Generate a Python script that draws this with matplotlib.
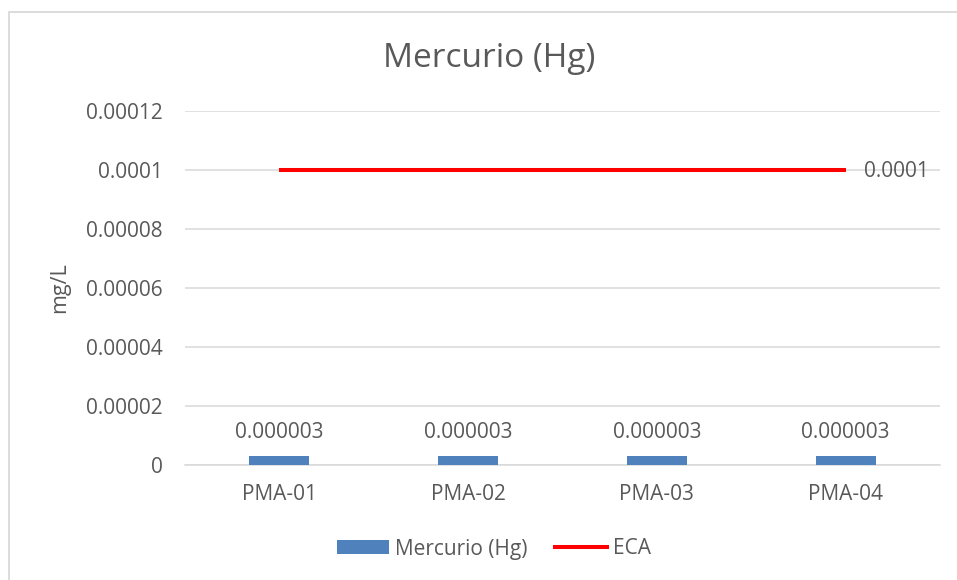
import matplotlib
matplotlib.use("Agg")
import matplotlib.pyplot as plt
from matplotlib.patches import Rectangle, Patch
from matplotlib.lines import Line2D

# Data
categories = ["PMA-01", "PMA-02", "PMA-03", "PMA-04"]
mercurio = [0.000003, 0.000003, 0.000003, 0.000003]
eca = [0.0001, 0.0001, 0.0001, 0.0001]
bar_labels = ["0.000003", "0.000003", "0.000003", "0.000003"]
eca_label = "0.0001"
yticks = [0, 0.00002, 0.00004, 0.00006, 0.00008, 0.0001, 0.00012]
ytick_labels = ["0", "0.00002", "0.00004", "0.00006", "0.00008", "0.0001", "0.00012"]

TEXT = "#595959"
GRID = "#d9d9d9"
BAR = "#4f81bd"
RED = "#ff0000"
FONT = "Open Sans"
FS = 15

plt.rcParams["font.family"] = [FONT, "DejaVu Sans"]

W, H = 957, 580
fig = plt.figure(figsize=(W / 100, H / 100), dpi=100)

# chart frame
fig.patches.append(Rectangle((9 / W, -0.1), 1.2, 1 - 12 / H + 0.1,
                             transform=fig.transFigure, fill=False,
                             edgecolor=GRID, linewidth=1.3))

ax = fig.add_axes([185 / W, 1 - 464.7 / H, (940 - 185) / W, (464.7 - 110.7) / H])
x = list(range(len(categories)))

bars = ax.bar(x, mercurio, width=0.318, color=BAR, zorder=3)
ax.plot(x, eca, color=RED, linewidth=2.9, solid_capstyle="butt", zorder=4)

for xi, v, lab in zip(x, mercurio, bar_labels):
    ax.annotate(lab, (xi, v), xytext=(0, 13), textcoords="offset points",
                ha="center", va="baseline", fontsize=FS, color=TEXT)
ax.annotate(eca_label, (x[-1], eca[-1]), xytext=(13.5, -1.5), textcoords="offset points",
            ha="left", va="center", fontsize=FS, color=TEXT)

ax.set_xlim(-0.5, len(categories) - 0.5)
ax.set_ylim(0, 0.00012)
ax.set_yticks(yticks)
ax.set_yticklabels(ytick_labels)
ax.set_xticks(x)
ax.set_xticklabels(categories)
ax.tick_params(axis="both", length=0, labelsize=FS, labelcolor=TEXT)
ax.tick_params(axis="y", pad=16)
ax.tick_params(axis="x", pad=14)
ax.yaxis.grid(True, color=GRID, linewidth=1.1, zorder=0)
ax.set_axisbelow(True)
for s in ["top", "right", "left"]:
    ax.spines[s].set_visible(False)
ax.spines["bottom"].set_color(GRID)
ax.spines["bottom"].set_linewidth(1.1)

ax.set_ylabel("mg/L", fontsize=15.5, color=TEXT)
ax.yaxis.set_label_coords(-(185 - 70) / (940 - 185), 0.5)

fig.text(489 / W, 1 - 67 / H, "Mercurio (Hg)", ha="center", va="baseline",
         fontsize=24, color=TEXT)

handles = [Patch(facecolor=BAR, edgecolor="none", label="Mercurio (Hg)"),
           Line2D([], [], color=RED, linewidth=2.9, label="ECA")]
fig.legend(handles=handles, loc="center", bbox_to_anchor=(494 / W, 1 - 549 / H),
           ncol=2, frameon=False, fontsize=FS, labelcolor=TEXT,
           handlelength=2.5, handleheight=0.67, handletextpad=0.3,
           columnspacing=1.3, borderpad=0)

fig.savefig("out.png", dpi=100)
